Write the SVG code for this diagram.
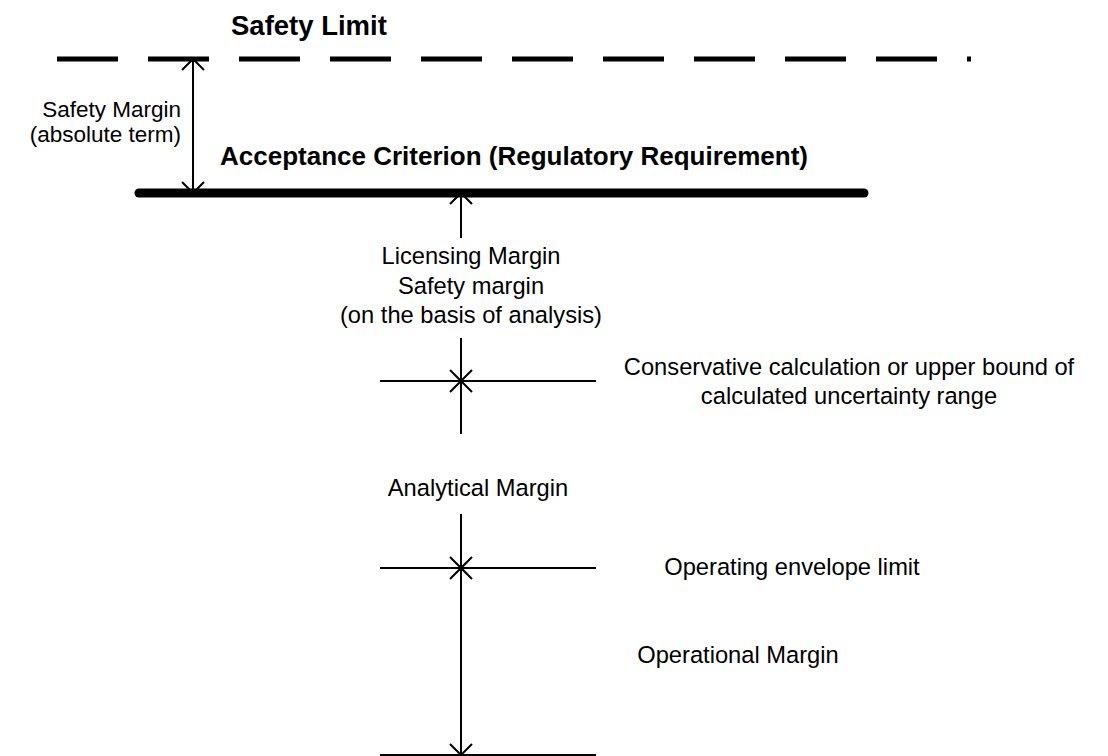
<svg xmlns="http://www.w3.org/2000/svg" width="1108" height="756" viewBox="0 0 1108 756">
<style>
text{font-family:"Liberation Sans",Arial,sans-serif;fill:#000}
.b{font-weight:bold;font-size:26px}
.r{font-size:23.7px}
.l{font-size:22.5px}
.t{stroke:#000;stroke-width:2;fill:none}
</style>
<defs>
<marker id="a" markerUnits="userSpaceOnUse" viewBox="-14 -13 16 26" markerWidth="16" markerHeight="26" refX="0" refY="0" orient="auto-start-reverse">
<path d="M-11,-11 L0,0 L-11,11" fill="none" stroke="#000" stroke-width="2"/>
</marker>
</defs>
<rect width="1108" height="756" fill="#fff"/>
<g id="safety-limit">
<line x1="57" y1="59" x2="971" y2="59" stroke="#000" stroke-width="5" stroke-dasharray="61 30"/>
<text class="b" x="231" y="35" style="font-size:27.5px">Safety Limit</text>
</g>
<g id="acceptance-criterion">
<line x1="139" y1="193" x2="864" y2="193" stroke="#000" stroke-width="9" stroke-linecap="round"/>
<text class="b" x="220" y="165">Acceptance Criterion (Regulatory Requirement)</text>
</g>
<g id="safety-margin">
<text class="l" x="181" y="117" text-anchor="end">Safety Margin</text>
<text class="l" x="181" y="142" text-anchor="end">(absolute term)</text>
</g>
<g id="licensing-margin">
<text class="r" x="471" y="264" text-anchor="middle">Licensing Margin</text>
<text class="r" x="471" y="294" text-anchor="middle">Safety margin</text>
<text class="r" x="471" y="323" text-anchor="middle">(on the basis of analysis)</text>
</g>
<g id="conservative-limit">
<line class="t" x1="380" y1="381" x2="596" y2="381"/>
<text class="r" x="849" y="375" text-anchor="middle">Conservative calculation or upper bound of</text>
<text class="r" x="849" y="404" text-anchor="middle">calculated uncertainty range</text>
</g>
<g id="analytical-margin">
<text class="r" x="478" y="496" text-anchor="middle">Analytical Margin</text>
</g>
<g id="operating-envelope">
<line class="t" x1="380" y1="568" x2="596" y2="568"/>
<text class="r" x="792" y="575" text-anchor="middle">Operating envelope limit</text>
</g>
<g id="operational-margin">
<line class="t" x1="380" y1="755" x2="596" y2="755"/>
<text class="r" x="738" y="663" text-anchor="middle">Operational Margin</text>
</g>
<g id="connectors">
<line class="t" x1="193" y1="59" x2="193" y2="193" marker-start="url(#a)" marker-end="url(#a)"/>
<line class="t" x1="461" y1="238" x2="461" y2="193" marker-end="url(#a)"/>
<line class="t" x1="461" y1="338" x2="461" y2="381" marker-end="url(#a)"/>
<line class="t" x1="461" y1="381" x2="461" y2="434" marker-start="url(#a)"/>
<line class="t" x1="461" y1="514" x2="461" y2="568" marker-end="url(#a)"/>
<line class="t" x1="461" y1="568" x2="461" y2="755" marker-start="url(#a)" marker-end="url(#a)"/>
</g>
</svg>
